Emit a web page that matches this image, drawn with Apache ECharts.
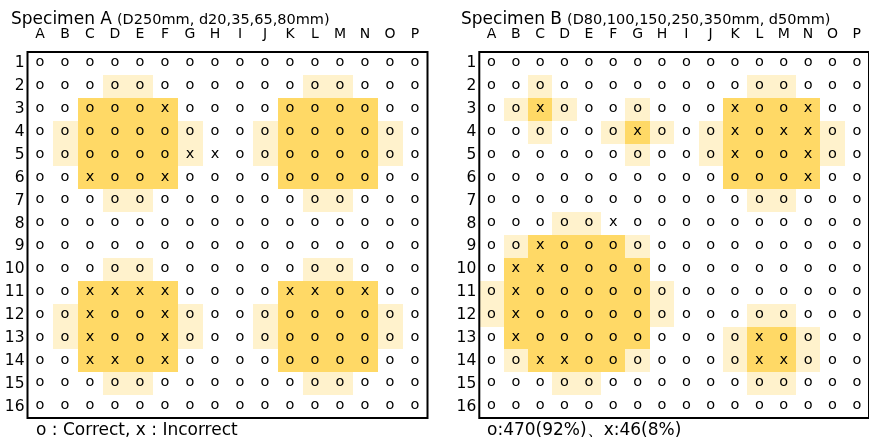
<!DOCTYPE html>
<html>
<head>
<meta charset="utf-8">
<script src="https://cdn.jsdelivr.net/npm/echarts@6/dist/echarts.min.js"></script>
<style>html,body{margin:0;padding:0;background:#fff}#c{width:869px;height:441px}</style>
</head>
<body>
<div id="c"></div>
<script>
const cols = ['A','B','C','D','E','F','G','H','I','J','K','L','M','N','O','P'];
const rows = ['1','2','3','4','5','6','7','8','9','10','11','12','13','14','15','16'];

// o = correct, x = incorrect
const marksA = [
  'oooooooooooooooo',
  'oooooooooooooooo',
  'oooooxoooooooooo',
  'oooooooooooooooo',
  'ooooooxxoooooooo',
  'ooxooxoooooooooo',
  'oooooooooooooooo',
  'oooooooooooooooo',
  'oooooooooooooooo',
  'oooooooooooooooo',
  'ooxxxxooooxxoxoo',
  'ooxooxoooooooooo',
  'ooxooxoooooooooo',
  'ooxxoxoooooooooo',
  'oooooooooooooooo',
  'oooooooooooooooo'
];
// 0 none, 1 light, 2 dark
const shadeA = [
  '0000000000000000',
  '0001100000011000',
  '0022220000222200',
  '0122221001222210',
  '0122221001222210',
  '0022220000222200',
  '0001100000011000',
  '0000000000000000',
  '0000000000000000',
  '0001100000011000',
  '0022220000222200',
  '0122221001222210',
  '0122221001222210',
  '0022220000222200',
  '0001100000011000',
  '0000000000000000'
];
const marksB = [
  'oooooooooooooooo',
  'oooooooooooooooo',
  'ooxoooooooxooxoo',
  'ooooooxoooxoxxoo',
  'ooooooooooxooxoo',
  'oooooooooooooxoo',
  'oooooooooooooooo',
  'oooooxoooooooooo',
  'ooxooooooooooooo',
  'oxxooooooooooooo',
  'oxoooooooooooooo',
  'oxoooooooooooooo',
  'oxoooooooooxoooo',
  'ooxxoooooooxxooo',
  'oooooooooooooooo',
  'oooooooooooooooo'
];
const shadeB = [
  '0000000000000000',
  '0010000000011000',
  '0121001000222200',
  '0010012101222210',
  '0000001001222210',
  '0000000000222200',
  '0000000000011000',
  '0001100000000000',
  '0122221000000000',
  '0222222000000000',
  '1222222100000000',
  '1222222100011000',
  '0222222000122100',
  '0122221000122100',
  '0001100000011000',
  '0000000000000000'
];
const titleA = 'Specimen A';
const subA = '(D250mm, d20,35,65,80mm)';
const titleB = 'Specimen B';
const subB = '(D80,100,150,250,350mm, d50mm)';
const footA = 'o : Correct, x : Incorrect';
const footB = 'o:470(92%)、x:46(8%)';

const shadeColors = [null, '#FFF2CC', '#FFD966'];
const FONT = 'DejaVu Sans, Verdana, sans-serif';

function buildData(marks, shade) {
  const d = [];
  for (let r = 0; r < rows.length; r++) {
    for (let c = 0; c < cols.length; c++) {
      d.push([c, r, Number(shade[r][c]), marks[r][c] === 'x' ? 1 : 0]);
    }
  }
  return d;
}

function renderItem(params, api) {
  const p = api.coord([api.value(0), api.value(1)]);
  const s = api.size([1, 1]);
  const lvl = api.value(2);
  const children = [];
  if (lvl > 0) {
    const x0 = Math.round(p[0] - s[0] / 2), x1 = Math.round(p[0] + s[0] / 2);
    const y0 = Math.round(p[1] - s[1] / 2), y1 = Math.round(p[1] + s[1] / 2);
    children.push({
      type: 'rect',
      shape: { x: x0, y: y0, width: x1 - x0, height: y1 - y0 },
      style: { fill: shadeColors[lvl] }
    });
  }
  children.push({
    type: 'text',
    style: {
      text: api.value(3) ? 'x' : 'o',
      x: p[0], y: p[1] - 1,
      align: 'center', verticalAlign: 'middle',
      fontSize: 14.5, fontFamily: FONT, fill: '#000'
    }
  });
  return { type: 'group', children };
}

function xAx(gi) {
  return {
    type: 'category', gridIndex: gi, data: cols, position: 'top',
    axisLine: { show: false }, axisTick: { show: false }, splitLine: { show: false },
    axisLabel: { fontSize: 14, color: '#000', fontFamily: FONT, margin: 11 }
  };
}
function yAx(gi) {
  return {
    type: 'category', gridIndex: gi, data: rows, inverse: true,
    axisLine: { show: false }, axisTick: { show: false }, splitLine: { show: false },
    axisLabel: { fontSize: 15.5, color: '#000', fontFamily: FONT, margin: 3 }
  };
}

const richTitle = {
  a: { fontSize: 17, fontWeight: 'normal', fontFamily: FONT, color: '#000' },
  b: { fontSize: 14.5, fontWeight: 'normal', fontFamily: FONT, color: '#000' }
};

const chart = echarts.init(document.getElementById('c'));
chart.setOption({
  animation: false,
  backgroundColor: '#fff',
  title: [
    { text: '{a|' + titleA + '} {b|' + subA + '}', left: 6, top: 6,
      textStyle: { fontWeight: 'normal', rich: richTitle } },
    { text: '{a|' + titleB + '} {b|' + subB + '}', left: 456, top: 6,
      textStyle: { fontWeight: 'normal', rich: richTitle } },
    { text: footA, left: 31, top: 417, textStyle: { fontSize: 17, fontWeight: 'normal', fontFamily: FONT, color: '#000' } },
    { text: footB, left: 482, top: 417, textStyle: { fontSize: 17, fontWeight: 'normal', fontFamily: FONT, color: '#000' } }
  ],
  grid: [
    { left: 27.5, top: 52, width: 400, height: 366, show: true, borderColor: '#000', borderWidth: 2, backgroundColor: 'transparent', z: 5 },
    { left: 479.3, top: 52, width: 401, height: 366, show: true, borderColor: '#000', borderWidth: 2, backgroundColor: 'transparent', z: 5 }
  ],
  xAxis: [xAx(0), xAx(1)],
  yAxis: [yAx(0), yAx(1)],
  series: [
    { type: 'custom', xAxisIndex: 0, yAxisIndex: 0, renderItem, data: buildData(marksA, shadeA), z: 1, silent: true },
    { type: 'custom', xAxisIndex: 1, yAxisIndex: 1, renderItem, data: buildData(marksB, shadeB), z: 1, silent: true }
  ]
});
</script>
</body>
</html>
